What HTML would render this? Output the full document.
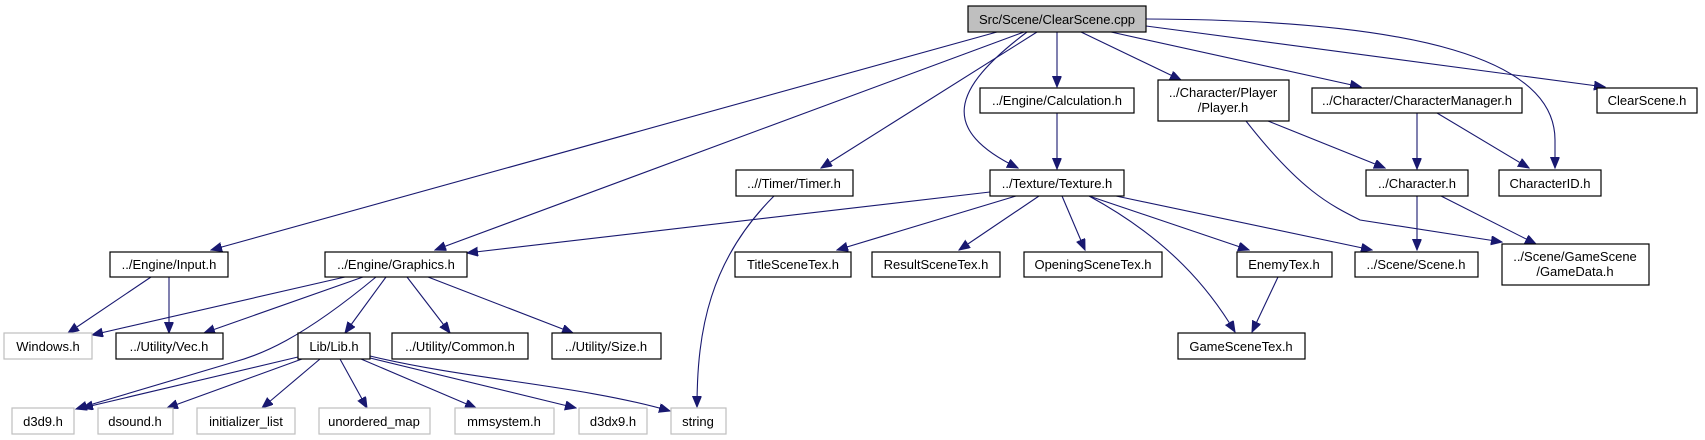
<!DOCTYPE html>
<html><head><meta charset="utf-8"><style>
html,body{margin:0;padding:0;background:#fff;}
svg{display:block;}
text{font-family:"Liberation Sans",Arial,sans-serif;font-size:13px;fill:#000;text-anchor:middle;}
.b{fill:#fff;stroke:#000;stroke-width:1.2;}
.g{fill:#fff;stroke:#bfbfbf;stroke-width:1.2;}
.e{fill:none;stroke:#191970;stroke-width:1.1;marker-end:url(#a);}
</style></head><body>
<svg width="1705" height="440" viewBox="0 0 1705 440" xmlns="http://www.w3.org/2000/svg">
<defs><marker id="a" markerUnits="userSpaceOnUse" markerWidth="12" markerHeight="10" refX="11" refY="4.5" orient="auto"><path d="M0,0 L11,4.5 L0,9 z" fill="#191970" stroke="#191970"/></marker></defs>
<g>
<path class="e" d="M997,32 L211,250"/>
<path class="e" d="M1024,32 L435,250"/>
<path class="e" d="M1037,32 L821,168"/>
<path class="e" d="M1027,32 C950,90 940,130 1018,168"/>
<path class="e" d="M1057,32 L1057,87"/>
<path class="e" d="M1081,32 L1181,80"/>
<path class="e" d="M1111,32 L1361,87"/>
<path class="e" d="M1146,26 L1605,87"/>
<path class="e" d="M1146,19 C1420,20 1555,60 1555,140 L1555,168"/>
<path class="e" d="M1057,113 L1057,169"/>
<path class="e" d="M990,192 L467,253"/>
<path class="e" d="M1016,196 L837,250"/>
<path class="e" d="M1039,196 L959,250"/>
<path class="e" d="M1062,196 L1085,250"/>
<path class="e" d="M1089,196 L1249,250"/>
<path class="e" d="M1089,196 C1170,240 1210,290 1235,332"/>
<path class="e" d="M1116,196 L1372,250"/>
<path class="e" d="M1268,121 L1385,168"/>
<path class="e" d="M1246,121 C1300,190 1330,205 1360,220 L1502,242"/>
<path class="e" d="M1417,113 L1417,169"/>
<path class="e" d="M1437,113 L1529,168"/>
<path class="e" d="M1417,196 L1417,250"/>
<path class="e" d="M1441,196 L1536,244"/>
<path class="e" d="M1278,277 L1252,332"/>
<path class="e" d="M774,196 C710,260 697,330 697,407"/>
<path class="e" d="M151,277 L68,333"/>
<path class="e" d="M169,277 L169,333"/>
<path class="e" d="M345,277 L92,335"/>
<path class="e" d="M363,277 L204,333"/>
<path class="e" d="M376,277 C300,340 260,355 234,362 L76,409"/>
<path class="e" d="M386,277 L345,333"/>
<path class="e" d="M407,277 L450,333"/>
<path class="e" d="M428,277 L573,333"/>
<path class="e" d="M298,357 L82,408"/>
<path class="e" d="M302,359 L167,408"/>
<path class="e" d="M320,359 L262,408"/>
<path class="e" d="M340,359 L367,408"/>
<path class="e" d="M361,359 L476,408"/>
<path class="e" d="M370,358 L576,408"/>
<path class="e" d="M370,356 C470,380 580,385 670,411"/>
</g>
<g>
<rect x="968" y="6" width="178" height="26" fill="#bfbfbf" stroke="#000" stroke-width="1.2"/><text x="1057" y="24">Src/Scene/ClearScene.cpp</text>
<rect class="b" x="980" y="88" width="154" height="25"/><text x="1057" y="105">../Engine/Calculation.h</text>
<rect class="b" x="1158" y="80" width="131" height="41"/><text x="1223" y="97">../Character/Player</text><text x="1223" y="112">/Player.h</text>
<rect class="b" x="1312" y="88" width="210" height="25"/><text x="1417" y="105">../Character/CharacterManager.h</text>
<rect class="b" x="1597" y="88" width="100" height="25"/><text x="1647" y="105">ClearScene.h</text>
<rect class="b" x="736" y="170" width="117" height="26"/><text x="794" y="188">..//Timer/Timer.h</text>
<rect class="b" x="990" y="170" width="134" height="26"/><text x="1057" y="188">../Texture/Texture.h</text>
<rect class="b" x="1366" y="170" width="102" height="26"/><text x="1417" y="188">../Character.h</text>
<rect class="b" x="1499" y="170" width="102" height="26"/><text x="1550" y="188">CharacterID.h</text>
<rect class="b" x="110" y="252" width="118" height="25"/><text x="169" y="269">../Engine/Input.h</text>
<rect class="b" x="325" y="252" width="142" height="25"/><text x="396" y="269">../Engine/Graphics.h</text>
<rect class="b" x="735" y="252" width="116" height="25"/><text x="793" y="269">TitleSceneTex.h</text>
<rect class="b" x="872" y="252" width="128" height="25"/><text x="936" y="269">ResultSceneTex.h</text>
<rect class="b" x="1024" y="252" width="138" height="25"/><text x="1093" y="269">OpeningSceneTex.h</text>
<rect class="b" x="1237" y="252" width="95" height="25"/><text x="1284" y="269">EnemyTex.h</text>
<rect class="b" x="1355" y="252" width="123" height="25"/><text x="1416" y="269">../Scene/Scene.h</text>
<rect class="b" x="1502" y="244" width="147" height="41"/><text x="1575" y="261">../Scene/GameScene</text><text x="1575" y="276">/GameData.h</text>
<rect class="g" x="4" y="333" width="88" height="26"/><text x="48" y="351">Windows.h</text>
<rect class="b" x="116" y="333" width="107" height="26"/><text x="169" y="351">../Utility/Vec.h</text>
<rect class="b" x="298" y="333" width="72" height="26"/><text x="334" y="351">Lib/Lib.h</text>
<rect class="b" x="392" y="333" width="136" height="26"/><text x="460" y="351">../Utility/Common.h</text>
<rect class="b" x="552" y="333" width="109" height="26"/><text x="606" y="351">../Utility/Size.h</text>
<rect class="b" x="1178" y="333" width="127" height="26"/><text x="1241" y="351">GameSceneTex.h</text>
<rect class="g" x="12" y="408" width="62" height="26"/><text x="43" y="426">d3d9.h</text>
<rect class="g" x="98" y="408" width="75" height="26"/><text x="135" y="426">dsound.h</text>
<rect class="g" x="197" y="408" width="98" height="26"/><text x="246" y="426">initializer_list</text>
<rect class="g" x="319" y="408" width="111" height="26"/><text x="374" y="426">unordered_map</text>
<rect class="g" x="455" y="408" width="99" height="26"/><text x="504" y="426">mmsystem.h</text>
<rect class="g" x="579" y="408" width="68" height="26"/><text x="613" y="426">d3dx9.h</text>
<rect class="g" x="671" y="408" width="55" height="26"/><text x="698" y="426">string</text>
</g>
</svg>
</body></html>
